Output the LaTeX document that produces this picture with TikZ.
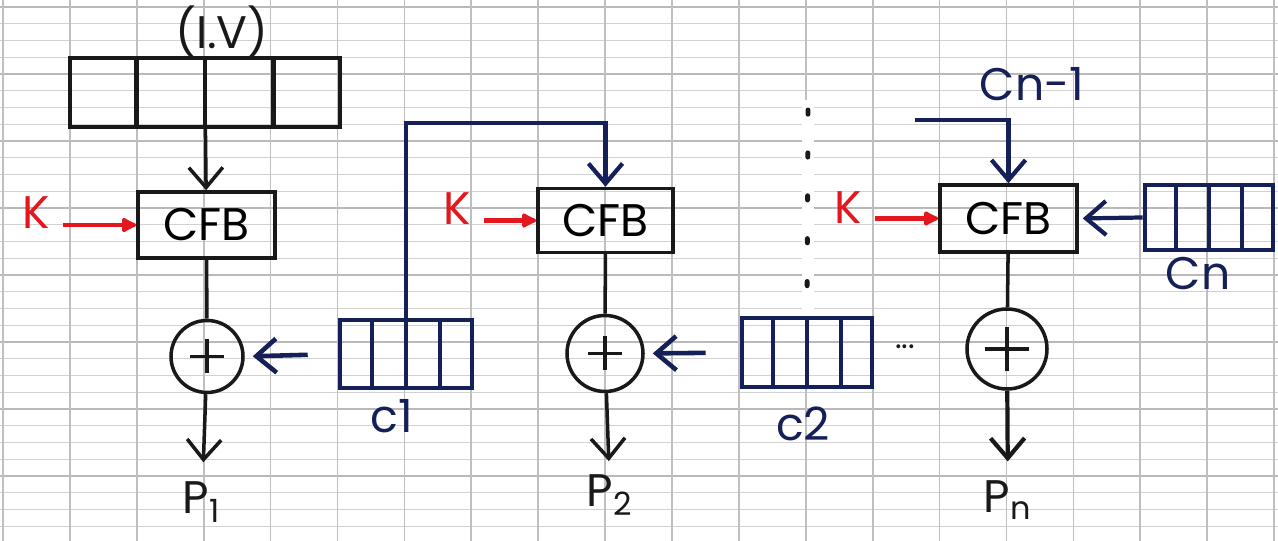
\documentclass[tikz,border=0pt]{standalone}
\usepackage{fontspec}
\setmainfont{Poppins}
\usetikzlibrary{arrows.meta,calc}
\definecolor{ink}{RGB}{25,25,25}
\definecolor{navy}{RGB}{22,32,88}
\definecolor{kred}{RGB}{228,22,30}
\begin{document}
\begin{tikzpicture}[line width=1pt,font=\fontsize{13}{15}\selectfont,
  cfbbox/.style={draw=ink,minimum width=1.37cm,minimum height=0.66cm,inner sep=0pt},
  xorc/.style={draw=ink,circle,minimum size=0.72cm,inner sep=0pt,
    path picture={\draw[ink] ($(path picture bounding box.center)+(-0.17,0)$) -- ++(0.34,0)
      ($(path picture bounding box.center)+(0,-0.17)$) -- ++(0,0.34);}},
  reg/.style={draw=navy,line width=1.3pt,minimum width=1.32cm,minimum height=0.68cm,inner sep=0pt},
  barb/.style={-{Straight Barb[length=2mm,width=3.4mm]}},
  karr/.style={kred,line width=1.2pt,-{Latex[round,length=1.8mm,width=1.8mm]}},
  gridv/.style={gray!50,line width=0.5pt},
  gridh/.style={gray!35,line width=0.4pt}]
\useasboundingbox (0,0) rectangle (12.78,-5.41);
% squared paper
\fill[white] (0,0) rectangle (12.78,-5.41);
\foreach \y in {0,...,31}
  \draw[gridh] (0,{-0.07-0.1675*\y}) -- ++(12.78,0);
\foreach \y in {0,4,...,28}
  \draw[gridh,gray!55] (0,{-0.07-0.1675*\y}) -- ++(12.78,0);
\foreach \x in {0,...,19}
  \draw[gridv] ({0.03+0.669*\x},0) -- ++(0,-5.41);
\fill[white] (8.02,-1.0) rectangle (8.14,-3.18);

% first block
\node[reg,draw=ink,line width=1.1pt,minimum width=2.70cm,minimum height=0.69cm] (iv) at (2.05,-0.925) {};
\node[ink] (ivlab) at (2.22,-0.31) {(I.V)};
\node[cfbbox] (cfb1) at (2.065,-2.25) {CFB};
\node[kred] (k1) at (0.36,-2.13) {K};
\node[xorc] (xor1) at (2.07,-3.565) {};
\node[ink] (p1) at (2.02,-5.02) {P\textsubscript{1}};
\node[reg] (c1reg) at (4.06,-3.54) {};
\node[navy] (c1lab) at (3.92,-4.16) {c1};

% second block
\node[cfbbox,minimum width=1.35cm,minimum height=0.64cm] (cfb2) at (6.055,-2.205) {CFB};
\node[kred] (k2) at (4.57,-2.09) {K};
\node[xorc,minimum size=0.76cm] (xor2) at (6.05,-3.535) {};
\node[ink] (p2) at (6.10,-4.95) {P\textsubscript{2}};
\node[reg,minimum width=1.30cm,minimum height=0.69cm] (c2reg) at (8.07,-3.525) {};
\node[navy] (c2lab) at (8.03,-4.24) {c2};
\node[ink,font=\small] (dots) at (9.05,-3.47) {...};

% last block
\node[cfbbox,minimum height=0.67cm] (cfb3) at (10.085,-2.185) {CFB};
\node[kred] (k3) at (8.48,-2.08) {K};
\node[xorc,minimum size=0.8cm,
  path picture={\draw[ink] ($(path picture bounding box.center)+(-0.22,0)$) -- ++(0.44,0)
    ($(path picture bounding box.center)+(0,-0.22)$) -- ++(0,0.44);}] (xor3) at (10.07,-3.49) {};
\node[ink] (pn) at (10.08,-5.0) {P\textsubscript{n}};
\node[reg,minimum width=1.28cm,minimum height=0.65cm] (cnreg) at (12.09,-2.175) {};
\node[navy] (cnlab) at (11.98,-2.74) {Cn};
\node[navy] (cn1lab) at (10.32,-0.84) {Cn-1};

\foreach \r/\c in {iv/ink,c1reg/navy,c2reg/navy,cnreg/navy}
  \foreach \i in {1,2,3}
    \draw[\c,line width=1.2pt] ($(\r.north west)!\i/4!(\r.north east)$) -- ($(\r.south west)!\i/4!(\r.south east)$);

\coordinate (fb1) at (6.055,-1.23);
\coordinate (fbn) at (9.15,-1.20);
\coordinate (dtop) at (8.08,-1.10);

% connectors
\draw[ink,barb] (iv) -- (cfb1);
\draw[karr] (k1.east |- cfb1) -- (cfb1.west);
\draw[ink] (cfb1) -- (xor1);
\draw[ink,barb,shorten >=0.6mm] (xor1) -- (p1);
\draw[navy,line width=1.3pt,barb,shorten <=3mm,shorten >=0.8mm] (c1reg.west) -- (xor1.east);
\draw[navy,line width=1.2pt,barb] (c1reg.north) |- (fb1) -- (cfb2.north);

\draw[karr] (k2.east |- cfb2) -- (cfb2.west);
\draw[ink] (cfb2) -- (xor2);
\draw[ink,barb] (xor2) -- (p2);
\draw[navy,line width=1.3pt,barb,shorten <=3.4mm,shorten >=0.8mm] (c2reg.west) -- (xor2.east);
\draw[ink,line width=1.4pt,dash pattern=on 1.2pt off 11pt,line cap=round] (dtop) -- (c2reg.north);

\draw[karr] (k3.east |- cfb3) -- (cfb3.west);
\draw[navy,line width=1.2pt,barb] (fbn) -| (cfb3.north);
\draw[navy,line width=1.2pt,barb,shorten >=0.4mm] (cnreg.west) -- (cfb3.east);
\draw[ink] (cfb3) -- (xor3);
\draw[ink,line width=1.2pt,barb,shorten >=0.6mm] (xor3) -- (pn);
\end{tikzpicture}
\end{document}
